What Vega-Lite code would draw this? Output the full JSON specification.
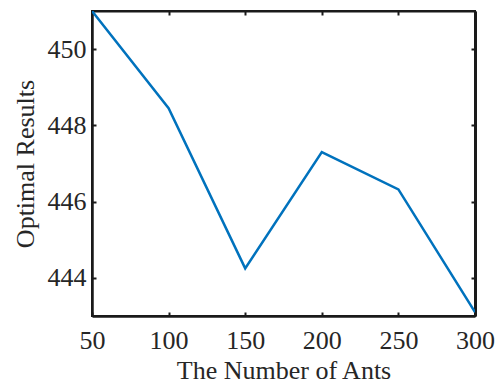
{
  "$schema": "https://vega.github.io/schema/vega-lite/v6.json",
  "autosize": "none",
  "width": 383,
  "height": 305,
  "padding": {"left": 92, "top": 11, "right": 23, "bottom": 71},
  "background": "white",
  "config": {
    "view": {"stroke": "#1a1a1a", "strokeWidth": 2},
    "axis": {
      "labelFont": "Liberation Serif",
      "titleFont": "Liberation Serif",
      "labelFontSize": 26,
      "titleFontSize": 26,
      "titleFontWeight": "normal",
      "labelColor": "#262626",
      "titleColor": "#262626",
      "domainColor": "#1a1a1a",
      "domainWidth": 2.5,
      "tickColor": "#1a1a1a",
      "tickWidth": 2,
      "tickSize": -4,
      "grid": false
    }
  },
  "data": {
    "values": [
      {"ants": 50, "result": 451.0},
      {"ants": 100, "result": 448.45},
      {"ants": 150, "result": 444.25},
      {"ants": 200, "result": 447.3},
      {"ants": 250, "result": 446.32},
      {"ants": 300, "result": 443.1}
    ]
  },
  "layer": [
    {
      "mark": {"type": "line", "color": "#0072BD", "strokeWidth": 2.5, "clip": true},
      "encoding": {
        "x": {
          "field": "ants", "type": "quantitative",
          "scale": {"domain": [50, 300], "nice": false, "zero": false},
          "axis": {"title": "The Number of Ants", "values": [50, 100, 150, 200, 250, 300], "labelPadding": 15, "titlePadding": 4, "labelFlush": false}
        },
        "y": {
          "field": "result", "type": "quantitative",
          "scale": {"domain": [443, 451], "nice": false, "zero": false},
          "axis": {"title": "Optimal Results", "values": [444, 446, 448, 450], "labelPadding": 10, "titlePadding": 9}
        }
      }
    },
    {
      "mark": {"type": "line", "opacity": 0},
      "encoding": {
        "x": {
          "field": "ants", "type": "quantitative",
          "axis": {"orient": "top", "title": null, "labels": false, "values": [50, 100, 150, 200, 250, 300], "domainWidth": 2}
        },
        "y": {
          "field": "result", "type": "quantitative",
          "axis": {"orient": "right", "title": null, "labels": false, "values": [444, 446, 448, 450], "domainWidth": 3}
        }
      }
    }
  ],
  "resolve": {"axis": {"x": "independent", "y": "independent"}}
}
